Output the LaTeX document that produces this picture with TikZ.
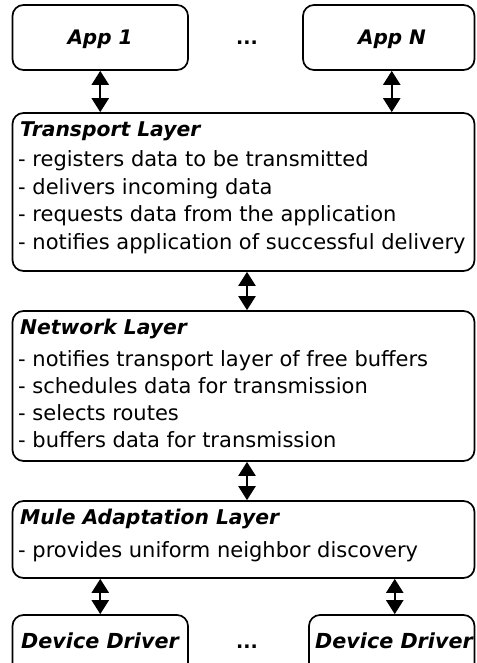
\documentclass[tikz,border=0pt]{standalone}
\usepackage{fontspec}
\setmainfont{DejaVu Sans}
\usetikzlibrary{arrows.meta}
\begin{document}
\begin{tikzpicture}[x=1pt,y=-1pt,
  box/.style={draw, line width=1.7pt, rounded corners=11pt, inner sep=0pt},
  hd/.style={anchor=base west, inner sep=0pt, font=\fontsize{20.3}{24}\selectfont\bfseries\itshape},
  bd/.style={anchor=base west, inner sep=0pt, font=\fontsize{21}{27}\selectfont},
  ttl/.style={anchor=base, inner sep=0pt, font=\fontsize{20}{24}\selectfont\bfseries\itshape},
  ddt/.style={anchor=base, inner sep=0pt, font=\fontsize{20.7}{24}\selectfont\bfseries\itshape},
  dots/.style={anchor=base, inner sep=0pt, font=\fontsize{19}{24}\selectfont\bfseries},
  arr/.style={line width=2.3pt, {Triangle[width=17pt,length=14pt]}-{Triangle[width=17pt,length=14pt]}}]
\useasboundingbox (0,0) rectangle (476,663);
\clip (0,0) rectangle (476,663);
% boxes
\node[box, minimum width=175.5pt, minimum height=65pt] (app1) at (100.25,37.5) {};
\node[box, minimum width=171.5pt, minimum height=65pt] (appN) at (388.75,37.5) {};
\node[box, minimum width=462pt, minimum height=158pt] (tl) at (243.5,192) {};
\node[box, minimum width=462pt, minimum height=150pt] (nl) at (243.5,386) {};
\node[box, minimum width=462pt, minimum height=77pt] (ml) at (243.5,539.5) {};
\node[box, minimum width=175.5pt, minimum height=85pt] (dd1) at (100.25,657.5) {};
\node[box, minimum width=165.5pt, minimum height=85pt] (ddN) at (391.75,657.5) {};
% app texts
\node[ttl] (app1t) at (100,45) {App 1};
\node[ttl] (appNt) at (392,45) {App N};
\node[dots] (dtop) at (247,45) {...};
% transport
\node[hd] (tlh) at (20,136.5) {Transport Layer};
\node[bd] (tl1) at (18,167) {- registers data to be transmitted};
\node[bd] (tl2) at (18,194.5) {- delivers incoming data};
\node[bd] (tl3) at (18,221.5) {- requests data from the application};
\node[bd] (tl4) at (18,249) {- notifies application of successful delivery};
% network
\node[hd] (nlh) at (20,334.5) {Network Layer};
\node[bd] (nl1) at (18,366) {- notifies transport layer of free buffers};
\node[bd] (nl2) at (18,393) {- schedules data for transmission};
\node[bd] (nl3) at (18,420) {- selects routes};
\node[bd] (nl4) at (18,447) {- buffers data for transmission};
% mule
\node[hd] (mlh) at (20,524.5) {Mule Adaptation Layer};
\node[bd] (ml1) at (18,557) {- provides uniform neighbor discovery};
% device drivers
\node[ddt] (dd1t) at (100,648) {Device Driver};
\node[ddt] (ddNt) at (394,648) {Device Driver};
\node[dots] (dbot) at (247,648) {...};
% arrows
\draw[arr] (app1.south) -- (app1.south |- tl.north);
\draw[arr] ([xshift=3pt]appN.south) -- ([xshift=3pt]appN.south |- tl.north);
\draw[arr] ([xshift=3.5pt]tl.south) -- ([xshift=3.5pt]nl.north);
\draw[arr] ([xshift=3.5pt]nl.south) -- ([xshift=3.5pt]ml.south |- ml.north);
\draw[arr] (dd1.north |- ml.south) -- (dd1.north);
\draw[arr] ([xshift=3pt]ddN.north |- ml.south) -- ([xshift=3pt]ddN.north);
\end{tikzpicture}
\end{document}
